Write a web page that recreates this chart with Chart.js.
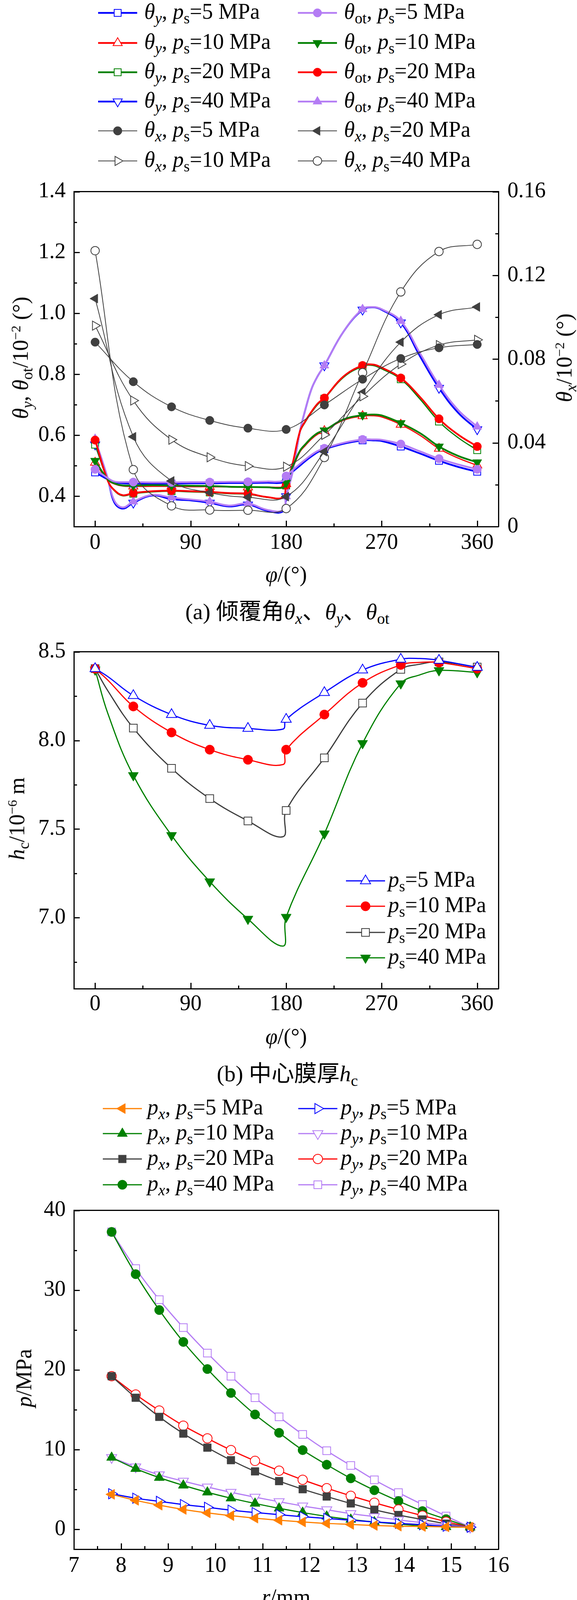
<!DOCTYPE html>
<html>
<head>
<meta charset="utf-8">
<script src="https://cdn.jsdelivr.net/npm/chart.js@4.4.1/dist/chart.umd.min.js"></script>
<style>
  body { margin: 0; background: #fff; }
  #page { position: relative; width: 1476px; height: 5620px; overflow: hidden;
          font-family: 'Liberation Serif', 'Noto Sans CJK SC', serif; color: #000; }
  canvas { position: absolute; left: 0; }
  .t { position: absolute; white-space: nowrap; line-height: 1; }
  .t sub { font-size: 0.7em; vertical-align: -0.3em; line-height: 0; }
  .t sup { font-size: 0.62em; vertical-align: 0.55em; line-height: 0; }
  .ic { position: absolute; }
</style>
</head>
<body>
<div id="page"></div>
<script>
// ---------- data ----------
// (a) tilt angles, phi in degrees
const phiTheta = [0, 12, 18, 26, 36, 54, 72, 90, 108, 126, 144, 162, 177, 180, 186, 193, 198, 204, 210, 216, 234, 252, 262, 270, 288, 306, 324, 342, 360];
const phiMarked = [0, 36, 72, 108, 144, 180, 216, 252, 288, 324, 360];

const thetaY5   = [0.478, 0.455, 0.446, 0.442, 0.441, 0.441, 0.441, 0.442, 0.442, 0.443, 0.443, 0.444, 0.445, 0.460, 0.480, 0.500, 0.515, 0.531, 0.545, 0.554, 0.572, 0.583, 0.583, 0.581, 0.563, 0.540, 0.516, 0.496, 0.480];
const thetaY10  = [0.510, 0.452, 0.440, 0.433, 0.432, 0.432, 0.432, 0.431, 0.431, 0.430, 0.429, 0.430, 0.430, 0.440, 0.490, 0.545, 0.566, 0.588, 0.604, 0.614, 0.649, 0.663, 0.664, 0.660, 0.635, 0.600, 0.556, 0.525, 0.501];
const thetaY20  = [0.569, 0.450, 0.418, 0.401, 0.408, 0.414, 0.416, 0.414, 0.412, 0.408, 0.406, 0.396, 0.395, 0.435, 0.505, 0.610, 0.643, 0.675, 0.702, 0.720, 0.790, 0.826, 0.829, 0.818, 0.784, 0.719, 0.645, 0.592, 0.551];
const thetaY40  = [0.569, 0.455, 0.380, 0.359, 0.378, 0.402, 0.390, 0.386, 0.378, 0.366, 0.372, 0.352, 0.350, 0.399, 0.479, 0.613, 0.683, 0.753, 0.796, 0.829, 0.940, 1.012, 1.020, 1.012, 0.970, 0.860, 0.755, 0.674, 0.619];
const thetaOt5  = [0.488, 0.459, 0.448, 0.446, 0.446, 0.445, 0.445, 0.446, 0.446, 0.447, 0.447, 0.448, 0.450, 0.466, 0.485, 0.506, 0.520, 0.536, 0.549, 0.557, 0.575, 0.586, 0.586, 0.585, 0.571, 0.547, 0.523, 0.504, 0.488];
const thetaOt10 = [0.516, 0.455, 0.442, 0.435, 0.435, 0.436, 0.435, 0.434, 0.433, 0.431, 0.430, 0.429, 0.428, 0.444, 0.495, 0.549, 0.570, 0.592, 0.608, 0.616, 0.652, 0.666, 0.668, 0.665, 0.640, 0.607, 0.563, 0.532, 0.511];
const thetaOt20 = [0.584, 0.450, 0.420, 0.403, 0.410, 0.416, 0.418, 0.416, 0.414, 0.410, 0.408, 0.397, 0.396, 0.436, 0.506, 0.613, 0.646, 0.678, 0.705, 0.722, 0.793, 0.829, 0.832, 0.822, 0.788, 0.726, 0.654, 0.602, 0.563];
const thetaOt40 = [0.588, 0.459, 0.386, 0.363, 0.382, 0.404, 0.395, 0.389, 0.382, 0.369, 0.376, 0.355, 0.354, 0.399, 0.479, 0.613, 0.683, 0.753, 0.796, 0.829, 0.940, 1.014, 1.021, 1.014, 0.975, 0.870, 0.765, 0.683, 0.628];

const phiX = [0, 36, 72, 108, 144, 180, 216, 252, 288, 324, 360];
const thetaX5  = [0.0881, 0.0692, 0.0572, 0.0507, 0.0470, 0.0464, 0.0581, 0.0704, 0.0803, 0.0854, 0.0870];
const thetaX10 = [0.0960, 0.0602, 0.0415, 0.0331, 0.0289, 0.0286, 0.0438, 0.0622, 0.0776, 0.0867, 0.0892];
const thetaX20 = [0.1089, 0.0429, 0.0218, 0.0162, 0.0140, 0.0143, 0.0358, 0.0640, 0.0881, 0.1012, 0.1049];
const thetaX40 = [0.1318, 0.0272, 0.0099, 0.0079, 0.0078, 0.0086, 0.0330, 0.0735, 0.1121, 0.1314, 0.1348];

// (b) central film thickness
const phiHc = [0, 12, 36, 72, 108, 144, 177, 180, 216, 252, 288, 306, 324, 360];
const hc5  = [8.405, 8.360, 8.253, 8.146, 8.085, 8.068, 8.064, 8.119, 8.270, 8.397, 8.458, 8.462, 8.452, 8.412];
const hc10 = [8.405, 8.340, 8.192, 8.045, 7.948, 7.891, 7.864, 7.948, 8.146, 8.325, 8.426, 8.440, 8.439, 8.405];
const hc20 = [8.405, 8.280, 8.070, 7.843, 7.672, 7.546, 7.457, 7.605, 7.902, 8.211, 8.401, 8.430, 8.443, 8.414];
const hc40 = [8.399, 8.152, 7.803, 7.465, 7.204, 6.993, 6.840, 7.004, 7.474, 7.984, 8.321, 8.370, 8.395, 8.384];

// (c), (d) pressure along radius
const rMm = [7.8, 8.31, 8.81, 9.32, 9.83, 10.33, 10.84, 11.35, 11.85, 12.36, 12.87, 13.37, 13.88, 14.39, 14.89, 15.4];
const pxHi5  = [4.38, 3.63, 3.02, 2.49, 2.06, 1.71, 1.40, 1.14, 0.92, 0.74, 0.61, 0.48, 0.39, 0.35, 0.30, 0.26];
const pxHi10 = [9.0, 7.6, 6.48, 5.51, 4.64, 3.9, 3.24, 2.63, 2.1, 1.62, 1.23, 0.92, 0.66, 0.44, 0.3, 0.26];
const pxHi20 = [19.2, 16.5, 14.1, 12.0, 10.24, 8.67, 7.26, 6.04, 5.03, 4.11, 3.24, 2.45, 1.79, 1.23, 0.7, 0.26];
const pxHi40 = [37.3, 32.0, 27.5, 23.5, 20.1, 17.1, 14.4, 12.1, 9.93, 8.1, 6.39, 4.9, 3.54, 2.28, 1.27, 0.26];
const pyHi5  = [4.46, 3.9, 3.5, 3.1, 2.76, 2.4, 2.1, 1.84, 1.58, 1.36, 1.14, 0.92, 0.74, 0.57, 0.39, 0.26];
const pyHi10 = [9.0, 7.83, 6.83, 6.04, 5.3, 4.64, 4.03, 3.46, 2.93, 2.45, 1.97, 1.58, 1.18, 0.83, 0.53, 0.26];
const pyHi20 = [19.2, 16.9, 14.9, 13.0, 11.4, 9.93, 8.58, 7.35, 6.21, 5.16, 4.2, 3.33, 2.49, 1.71, 0.96, 0.26];
const pyHi40 = [37.3, 32.7, 28.8, 25.3, 22.1, 19.2, 16.5, 14.1, 11.9, 9.85, 8.0, 6.2, 4.6, 3.1, 1.66, 0.26];

const pxLo5  = [0.198, 0.039, -0.079, -0.163, -0.218, -0.248, -0.256, -0.248, -0.221, -0.182, -0.131, -0.066, 0.009, 0.096, 0.192, 0.300];
const pxLo10 = [0.200, 0.012, -0.117, -0.214, -0.275, -0.308, -0.319, -0.306, -0.279, -0.234, -0.175, -0.104, -0.020, 0.075, 0.185, 0.302];
const pxLo20 = [0.198, -0.033, -0.200, -0.317, -0.390, -0.430, -0.442, -0.426, -0.390, -0.336, -0.264, -0.177, -0.076, 0.038, 0.165, 0.300];
const pxLo40 = [0.198, -0.102, -0.319, -0.465, -0.557, -0.607, -0.619, -0.597, -0.549, -0.480, -0.388, -0.280, -0.155, -0.017, 0.134, 0.300];
const pyLo5  = [0.198, 0.194, 0.189, 0.188, 0.189, 0.192, 0.197, 0.205, 0.216, 0.225, 0.236, 0.248, 0.261, 0.273, 0.287, 0.300];
const pyLo10 = [0.198, 0.178, 0.164, 0.156, 0.152, 0.152, 0.154, 0.161, 0.169, 0.183, 0.198, 0.216, 0.235, 0.258, 0.280, 0.300];
const pyLo20 = [0.198, 0.149, 0.111, 0.083, 0.066, 0.056, 0.056, 0.064, 0.078, 0.096, 0.121, 0.149, 0.181, 0.217, 0.257, 0.300];
const pyLo40 = [0.198, 0.092, 0.012, -0.047, -0.087, -0.109, -0.115, -0.109, -0.088, -0.059, -0.020, 0.029, 0.087, 0.151, 0.222, 0.300];

// tick values
const phiTicks = [0, 90, 180, 270, 360];
const thetaTicks = [0.4, 0.6, 0.8, 1.0, 1.2, 1.4];
const thetaXTicks = [0, 0.04, 0.08, 0.12, 0.16];
const hcTicks = [7.0, 7.5, 8.0, 8.5];
const rTicks = [7, 8, 9, 10, 11, 12, 13, 14, 15, 16];
const pHiTicks = [0, 10, 20, 30, 40];
const pLoTicks = [-0.6, -0.4, -0.2, 0, 0.2, 0.4, 0.6];

// ---------- styles ----------
const SERIF = "'Liberation Serif', 'Noto Sans CJK SC', serif";
Chart.defaults.font.family = SERIF;
Chart.defaults.color = '#000';

const BLUE = '#0000ff', RED = '#ff0000', GREEN = '#008000', PURPLE = '#b47cf4',
      DARK = '#404040', ORANGE = '#ff8000', NAVY = '#1c2aa6';

const SHAPES = { circle: ['circle', 0], square: ['rect', 0], up: ['triangle', 0],
                 down: ['triangle', 180], left: ['triangle', 270], right: ['triangle', 90] };
const RADIUS = { circle: 12, square: 14, up: 15, down: 15, left: 15, right: 15 };

const page = document.getElementById('page');

function addText(html, x, cy, size, mode) {
    const d = document.createElement('div');
    d.className = 't';
    d.innerHTML = html;
    d.style.fontSize = size + 'px';
    if (mode === 'rot') {
        d.style.left = x + 'px';
        d.style.top = cy + 'px';
        d.style.transform = 'translate(-50%, -50%) rotate(-90deg)';
    } else {
        d.style.left = x + 'px';
        d.style.top = (cy - 0.51 * size) + 'px';
        if (mode === 'center') d.style.transform = 'translateX(-50%)';
    }
    page.appendChild(d);
}

function markerSvg(shape, r, color, filled) {
    const fill = filled ? color : '#fff';
    const sw = filled ? 1 : 2;
    if (shape === 'circle') return `<circle cx="0" cy="0" r="${r}" fill="${fill}" stroke="${color}" stroke-width="${sw}"/>`;
    if (shape === 'square') {
        const h = r * Math.SQRT1_2;
        return `<rect x="${-h}" y="${-h}" width="${2 * h}" height="${2 * h}" fill="${fill}" stroke="${color}" stroke-width="${sw}"/>`;
    }
    let a = SHAPES[shape][1] * Math.PI / 180;
    const pts = [];
    for (let k = 0; k < 3; k++) {
        pts.push((Math.sin(a) * r).toFixed(2) + ',' + (-Math.cos(a) * r).toFixed(2));
        a += 2 * Math.PI / 3;
    }
    return `<polygon points="${pts.join(' ')}" fill="${fill}" stroke="${color}" stroke-width="${sw}"/>`;
}

function legendItem(html, iconX, textX, y, color, shape, filled, lw, r) {
    const d = document.createElement('div');
    d.className = 'ic';
    d.style.left = iconX + 'px';
    d.style.top = (y - 22) + 'px';
    d.innerHTML = `<svg width="100" height="44" viewBox="-50 -22 100 44">
      <line x1="-50" y1="0" x2="50" y2="0" stroke="${color}" stroke-width="${lw}"/>
      ${markerSvg(shape, r, color, filled)}</svg>`;
    page.appendChild(d);
    addText(html, textX, y - 3.5, 56, 'left');
}

function series(xs, ys, color, shape, filled, lw, opt = {}) {
    const [ps, rot] = SHAPES[shape];
    const r = (opt.scale || 1) * RADIUS[shape];
    const marks = opt.marks;
    return {
        data: xs.map((x, i) => ({ x: x, y: ys[i] })),
        borderColor: color,
        borderWidth: lw,
        backgroundColor: filled ? color : '#fff',
        pointStyle: ps,
        pointRotation: rot,
        pointBackgroundColor: filled ? color : '#fff',
        pointBorderColor: color,
        pointBorderWidth: filled ? 1 : 2,
        pointRadius: marks ? (c => (marks.includes(c.raw.x) ? r : 0)) : r,
        pointHoverRadius: marks ? (c => (marks.includes(c.raw.x) ? r : 0)) : r,
        yAxisID: opt.axis || 'y',
        tension: opt.tension === undefined ? 0.4 : opt.tension,
        fill: false,
        order: opt.order || 0
    };
}

// inward tick marks drawn on the chart scales
const innerTicks = {
    id: 'innerTicks',
    afterDraw(chart, args, opts) {
        const ctx = chart.ctx;
        const area = chart.chartArea;
        ctx.save();
        ctx.strokeStyle = '#000';
        ctx.lineWidth = 3;
        (opts.axes || []).forEach(id => {
            const s = chart.scales[id];
            const vals = s.ticks.map(t => t.value);
            const step = vals[1] - vals[0];
            const minors = [vals[0] - step / 2].concat(vals.map(v => v + step / 2))
                .filter(v => v > s.min + 1e-9 && v < s.max - 1e-9);
            const draw = (v, len) => {
                const p = Math.round(s.getPixelForValue(v)) + 0.5;
                ctx.beginPath();
                if (s.position === 'left') { ctx.moveTo(area.left, p); ctx.lineTo(area.left + len, p); }
                else if (s.position === 'right') { ctx.moveTo(area.right, p); ctx.lineTo(area.right - len, p); }
                else { ctx.moveTo(p, area.bottom); ctx.lineTo(p, area.bottom - len); }
                ctx.stroke();
            };
            vals.forEach(v => draw(v, 15));
            minors.forEach(v => draw(v, 8));
        });
        ctx.restore();
    }
};

const PLOT_LEFT = 189, PLOT_RIGHT = 1275;
const border = { display: true, width: 3, color: '#000' };
const tickFont = { family: SERIF, size: 56 };

function setTicks(list) {
    return s => { s.ticks = list.map(v => ({ value: v })); };
}

function buildChart(c) {
    const h = c.bottom - c.top;
    const cv = document.createElement('canvas');
    cv.width = 1476; cv.height = h;
    cv.style.top = c.top + 'px';
    cv.style.width = '1476px';
    cv.style.height = h + 'px';
    page.appendChild(cv);

    const scales = {
        x: {
            type: 'linear', position: 'bottom', min: c.xMin, max: c.xMax,
            afterBuildTicks: setTicks(c.xTicks),
            afterFit: s => { s.height = c.bottom - c.plotBottom; },
            grid: { display: false, drawTicks: false }, border: border,
            ticks: { font: tickFont, padding: c.xPad, autoSkip: false, maxRotation: 0, minRotation: 0,
                     callback: v => String(v) }
        },
        xTop: {
            type: 'linear', position: 'top', min: c.xMin, max: c.xMax,
            afterFit: s => { s.height = 0; },
            grid: { display: false, drawTicks: false }, border: border, ticks: { display: false }
        },
        y: {
            type: 'linear', position: 'left', min: c.yMin, max: c.yMax,
            afterBuildTicks: setTicks(c.yTicks),
            afterFit: s => { s.width = PLOT_LEFT; },
            grid: { display: false, drawTicks: false }, border: border,
            ticks: { font: tickFont, padding: 21, autoSkip: false, callback: c.yFmt }
        },
        y2: c.y2 ? {
            type: 'linear', position: 'right', min: c.y2.min, max: c.y2.max,
            afterBuildTicks: setTicks(c.y2.ticks),
            afterFit: s => { s.width = 1476 - PLOT_RIGHT; },
            grid: { display: false, drawTicks: false }, border: border,
            ticks: { font: tickFont, padding: 23, autoSkip: false, callback: c.y2.fmt }
        } : {
            type: 'linear', position: 'right', min: 0, max: 1,
            afterFit: s => { s.width = 1476 - PLOT_RIGHT; },
            grid: { display: false, drawTicks: false }, border: border, ticks: { display: false }
        }
    };

    new Chart(cv.getContext('2d'), {
        type: 'line',
        data: { datasets: c.datasets },
        options: {
            responsive: false,
            animation: false,
            devicePixelRatio: 1,
            layout: { padding: { top: c.plotTop - c.top, left: 0, right: 0, bottom: 0 } },
            scales: scales,
            plugins: {
                legend: { display: false },
                tooltip: { enabled: false },
                innerTicks: { axes: c.y2 ? ['x', 'y', 'y2'] : ['x', 'y'] }
            }
        },
        plugins: [innerTicks]
    });
}

const fmt1 = v => v.toFixed(1);
const fmtLo = v => (Math.abs(v) < 1e-9 ? '0' : (v < 0 ? '\u2212' + (-v).toFixed(1) : v.toFixed(1)));

// ---------- (a) ----------
const mA = { marks: phiMarked, scale: 0.9 };
buildChart({
    top: 434, bottom: 1440, plotTop: 484, plotBottom: 1348,
    xMin: -20, xMax: 380, xTicks: phiTicks, xPad: 9,
    yMin: 0.3, yMax: 1.4, yTicks: thetaTicks, yFmt: fmt1,
    y2: { min: 0, max: 0.16, ticks: thetaXTicks, fmt: v => (v === 0 ? '0' : v.toFixed(2)) },
    datasets: [
        series(phiX, thetaX5, DARK, 'circle', true, 2, { axis: 'y2', scale: 0.9, order: 0 }),
        series(phiX, thetaX10, DARK, 'right', false, 2, { axis: 'y2', scale: 0.9, order: 0 }),
        series(phiX, thetaX20, DARK, 'left', true, 2, { axis: 'y2', scale: 0.9, order: 0 }),
        series(phiX, thetaX40, DARK, 'circle', false, 2, { axis: 'y2', scale: 0.9, order: 0 }),
        series(phiTheta, thetaOt5, PURPLE, 'circle', true, 4.5, { ...mA, order: 1 }),
        series(phiTheta, thetaOt10, GREEN, 'down', true, 4.5, { ...mA, order: 1 }),
        series(phiTheta, thetaOt20, RED, 'circle', true, 4.5, { ...mA, order: 1 }),
        series(phiTheta, thetaOt40, PURPLE, 'up', true, 4.5, { ...mA, order: 1 }),
        series(phiTheta, thetaY5, BLUE, 'square', false, 4.5, { ...mA, order: 2 }),
        series(phiTheta, thetaY10, RED, 'up', false, 3, { ...mA, order: 2 }),
        series(phiTheta, thetaY20, GREEN, 'square', false, 3, { ...mA, order: 2 }),
        series(phiTheta, thetaY40, BLUE, 'down', false, 4.5, { ...mA, order: 2 })
    ]
});

const psLabels = ['5', '10', '20', '40'];
const rowsA = [33, 110, 185, 260];
const thY = [[BLUE, 'square', false], [RED, 'up', false], [GREEN, 'square', false], [BLUE, 'down', false]];
const thOt = [[PURPLE, 'circle', true], [GREEN, 'down', true], [RED, 'circle', true], [PURPLE, 'up', true]];
rowsA.forEach((y, i) => {
    legendItem(`<i>θ</i><sub><i>y</i></sub>, <i>p</i><sub>s</sub>=${psLabels[i]} MPa`, 251, 369, y,
        thY[i][0], thY[i][1], thY[i][2], 4.5, RADIUS[thY[i][1]] * 0.9);
    legendItem(`<i>θ</i><sub>ot</sub>, <i>p</i><sub>s</sub>=${psLabels[i]} MPa`, 762, 880, y,
        thOt[i][0], thOt[i][1], thOt[i][2], 4.5, RADIUS[thOt[i][1]] * 0.9);
});
legendItem(`<i>θ</i><sub><i>x</i></sub>, <i>p</i><sub>s</sub>=5 MPa`, 251, 369, 335, DARK, 'circle', true, 2, 11);
legendItem(`<i>θ</i><sub><i>x</i></sub>, <i>p</i><sub>s</sub>=10 MPa`, 251, 369, 412, DARK, 'right', false, 2, 13.5);
legendItem(`<i>θ</i><sub><i>x</i></sub>, <i>p</i><sub>s</sub>=20 MPa`, 762, 880, 335, DARK, 'left', true, 2, 13.5);
legendItem(`<i>θ</i><sub><i>x</i></sub>, <i>p</i><sub>s</sub>=40 MPa`, 762, 880, 412, DARK, 'circle', false, 2, 11);

addText(`<i>θ</i><sub><i>y</i></sub>, <i>θ</i><sub>ot</sub>/10<sup>−2</sup> (°)`, 52, 916, 56, 'rot');
addText(`<i>θ</i><sub><i>x</i></sub>/10<sup>−2</sup> (°)`, 1443, 916, 56, 'rot');
addText(`<i>φ</i>/(°)`, 732, 1471, 56, 'center');
addText(`(a) 倾覆角<i>θ</i><sub><i>x</i></sub>、<i>θ</i><sub><i>y</i></sub>、<i>θ</i><sub>ot</sub>`, 735, 1567, 58, 'center');

// ---------- (b) ----------
buildChart({
    top: 1614, bottom: 2620, plotTop: 1664, plotBottom: 2531,
    xMin: -20, xMax: 380, xTicks: phiTicks, xPad: 7,
    yMin: 6.6, yMax: 8.5, yTicks: hcTicks, yFmt: fmt1,
    datasets: [
        series(phiHc, hc5, BLUE, 'up', false, 3, { marks: phiMarked }),
        series(phiHc, hc10, RED, 'circle', true, 3, { marks: phiMarked }),
        series(phiHc, hc20, '#3c3c3c', 'square', false, 3, { marks: phiMarked }),
        series(phiHc, hc40, GREEN, 'down', true, 3, { marks: phiMarked })
    ]
});
const rowsB = [2255, 2320, 2387, 2452];
const stB = [[BLUE, 'up', false], [RED, 'circle', true], ['#3c3c3c', 'square', false], [GREEN, 'down', true]];
rowsB.forEach((y, i) => {
    legendItem(`<i>p</i><sub>s</sub>=${psLabels[i]} MPa`, 885, 993, y, stB[i][0], stB[i][1], stB[i][2], 3, RADIUS[stB[i][1]]);
});
addText(`<i>h</i><sub>c</sub>/10<sup>−6</sup> m`, 43, 2096, 56, 'rot');
addText(`<i>φ</i>/(°)`, 732, 2654, 56, 'center');
addText(`(b) 中心膜厚<i>h</i><sub>c</sub>`, 735, 2750, 58, 'center');

// ---------- (c) ----------
buildChart({
    top: 3044, bottom: 4056, plotTop: 3094, plotBottom: 3966,
    xMin: 7, xMax: 16, xTicks: rTicks, xPad: 10,
    yMin: -2.5, yMax: 40, yTicks: pHiTicks, yFmt: v => String(v),
    datasets: [
        series(rMm, pxHi5, ORANGE, 'left', true, 3),
        series(rMm, pyHi5, BLUE, 'right', false, 3),
        series(rMm, pxHi10, GREEN, 'up', true, 3),
        series(rMm, pyHi10, PURPLE, 'down', false, 3),
        series(rMm, pxHi20, DARK, 'square', true, 3),
        series(rMm, pyHi20, RED, 'circle', false, 3),
        series(rMm, pxHi40, GREEN, 'circle', true, 3),
        series(rMm, pyHi40, PURPLE, 'square', false, 3)
    ]
});
const rowsC = [2838, 2902, 2967, 3033];
const pxC = [[ORANGE, 'left', true], [GREEN, 'up', true], [DARK, 'square', true], [GREEN, 'circle', true]];
const pyC = [[BLUE, 'right', false], [PURPLE, 'down', false], [RED, 'circle', false], [PURPLE, 'square', false]];
rowsC.forEach((y, i) => {
    legendItem(`<i>p</i><sub><i>x</i></sub>, <i>p</i><sub>s</sub>=${psLabels[i]} MPa`, 263, 377, y, pxC[i][0], pxC[i][1], pxC[i][2], 3, RADIUS[pxC[i][1]]);
    legendItem(`<i>p</i><sub><i>y</i></sub>, <i>p</i><sub>s</sub>=${psLabels[i]} MPa`, 763, 872, y, pyC[i][0], pyC[i][1], pyC[i][2], 3, RADIUS[pyC[i][1]]);
});
addText(`<i>p</i>/MPa`, 61, 3528, 56, 'rot');
addText(`<i>r</i>/mm`, 732, 4089, 56, 'center');
addText(`(c) 高压区油膜压力场 (<i>φ</i>=90°)`, 735, 4178, 58, 'center');

// ---------- (d) ----------
buildChart({
    top: 4464, bottom: 5474, plotTop: 4514, plotBottom: 5384,
    xMin: 7, xMax: 16, xTicks: rTicks, xPad: 9,
    yMin: -0.7, yMax: 0.6, yTicks: pLoTicks, yFmt: fmtLo,
    datasets: [
        series(rMm, pyLo5, PURPLE, 'right', false, 3),
        series(rMm, pyLo10, NAVY, 'down', false, 3),
        series(rMm, pyLo20, RED, 'circle', false, 3),
        series(rMm, pyLo40, NAVY, 'square', false, 3),
        series(rMm, pxLo5, RED, 'left', true, 3),
        series(rMm, pxLo10, GREEN, 'up', true, 3),
        series(rMm, pxLo20, DARK, 'square', true, 3),
        series(rMm, pxLo40, PURPLE, 'circle', true, 3)
    ]
});
const rowsD = [4263, 4326, 4389, 4452];
const pxD = [[RED, 'left', true], [GREEN, 'up', true], [DARK, 'square', true], [PURPLE, 'circle', true]];
const pyD = [[PURPLE, 'right', false], [NAVY, 'down', false], [RED, 'circle', false], [NAVY, 'square', false]];
rowsD.forEach((y, i) => {
    legendItem(`<i>p</i><sub><i>x</i></sub>, <i>p</i><sub>s</sub>=${psLabels[i]} MPa`, 263, 374, y, pxD[i][0], pxD[i][1], pxD[i][2], 3, RADIUS[pxD[i][1]]);
    legendItem(`<i>p</i><sub><i>y</i></sub>, <i>p</i><sub>s</sub>=${psLabels[i]} MPa`, 764, 872, y, pyD[i][0], pyD[i][1], pyD[i][2], 3, RADIUS[pyD[i][1]]);
});
addText(`<i>p</i>/MPa`, 33, 4947, 56, 'rot');
addText(`<i>r</i>/mm`, 732, 5508, 56, 'center');
addText(`(d) 低压区油膜压力场 (<i>φ</i>=270°)`, 735, 5593, 58, 'center');
</script>
</body>
</html>
